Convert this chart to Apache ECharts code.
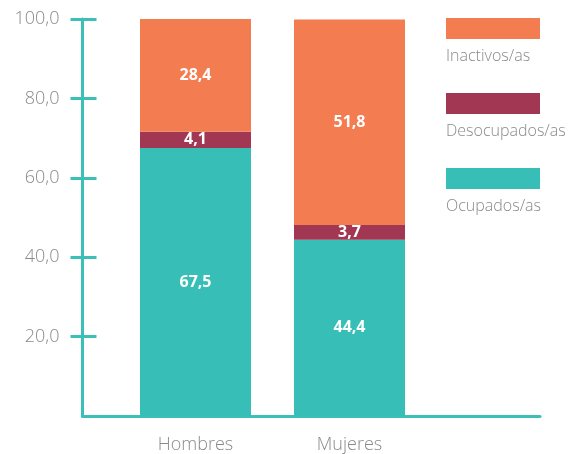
<!DOCTYPE html>
<html>
<head>
<meta charset="utf-8">
<script src="https://cdn.jsdelivr.net/npm/echarts@6/dist/echarts.min.js"></script>
<style>
  html, body { margin: 0; padding: 0; background: #fff; }
  #chart { width: 577px; height: 454px; }
</style>
</head>
<body>
<div id="chart"></div>
<script>
var categories = ['Hombres', 'Mujeres'];
var ocupados = [67.5, 44.4];
var desocupados = [4.1, 3.7];
var inactivos = [28.4, 51.8];
var yTicks = [20, 40, 60, 80, 100];
var seriesNames = ['Ocupados/as', 'Desocupados/as', 'Inactivos/as'];
var seriesColors = ['#37beb6', '#a13752', '#f47c51'];

var teal = '#3bbfb6';
var grey = '#8a8a8a';
var fmt = function (v) { return v.toFixed(1).replace('.', ','); };

var myChart = echarts.init(document.getElementById('chart'));

// legend drawn as blocks with the text underneath (top to bottom: inactivos first)
var legendItems = [];
[2, 1, 0].forEach(function (s, i) {
    var y = 18 + i * 75;
    legendItems.push({
        type: 'rect', left: 446, top: y,
        shape: { width: 94, height: 21 },
        style: { fill: seriesColors[s] }
    });
    legendItems.push({
        type: 'text', left: 446, top: y + 30,
        style: {
            text: seriesNames[s], fill: grey,
            font: '300 16px "Open Sans"'
        }
    });
});

var values = [ocupados, desocupados, inactivos];
var series = values.map(function (arr, i) {
    return {
        name: seriesNames[i],
        type: 'bar',
        stack: 'total',
        xAxisIndex: 0,
        yAxisIndex: 0,
        barWidth: 111,
        data: arr,
        itemStyle: { color: seriesColors[i] },
        label: {
            show: true,
            position: 'inside',
            color: '#fff',
            fontFamily: 'Open Sans',
            fontWeight: 'bold',
            fontSize: 16,
            formatter: function (p) { return fmt(p.value); }
        }
    };
});

var option = {
    animation: false,
    textStyle: { fontFamily: 'Open Sans' },
    grid: [
        { left: 118.5, right: 150.5, top: 19, bottom: 38 },
        { left: 82.5, right: 37, top: 19, bottom: 38 }
    ],
    xAxis: [
        {
            gridIndex: 0,
            type: 'category',
            data: categories,
            axisLine: { show: false },
            axisTick: { show: false },
            axisLabel: { color: grey, fontSize: 18, fontWeight: 300, margin: 20 }
        },
        {
            gridIndex: 1,
            type: 'value',
            min: 0, max: 1,
            axisLine: { show: true, lineStyle: { color: teal, width: 3 } },
            axisTick: { show: false },
            axisLabel: { show: false },
            splitLine: { show: false }
        }
    ],
    yAxis: [
        {
            gridIndex: 0,
            type: 'value',
            min: 0, max: 100,
            show: false
        },
        {
            gridIndex: 1,
            type: 'value',
            min: 0, max: 100, interval: 20,
            axisLine: { show: true, lineStyle: { color: teal, width: 3 } },
            axisTick: {
                show: true, length: 12, inside: false,
                customValues: yTicks,
                lineStyle: { color: teal, width: 3 }
            },
            axisLabel: {
                color: grey, fontSize: 18, fontWeight: 300, margin: 23,
                customValues: yTicks,
                formatter: fmt
            },
            splitLine: { show: false }
        },
        {
            gridIndex: 1,
            type: 'value',
            position: 'left',
            min: 0, max: 100, interval: 20,
            axisLine: { show: false },
            axisTick: {
                show: true, length: 14, inside: true,
                customValues: yTicks,
                lineStyle: { color: teal, width: 3 }
            },
            axisLabel: { show: false },
            splitLine: { show: false }
        }
    ],
    graphic: legendItems,
    series: series
};
myChart.setOption(option);
</script>
</body>
</html>
